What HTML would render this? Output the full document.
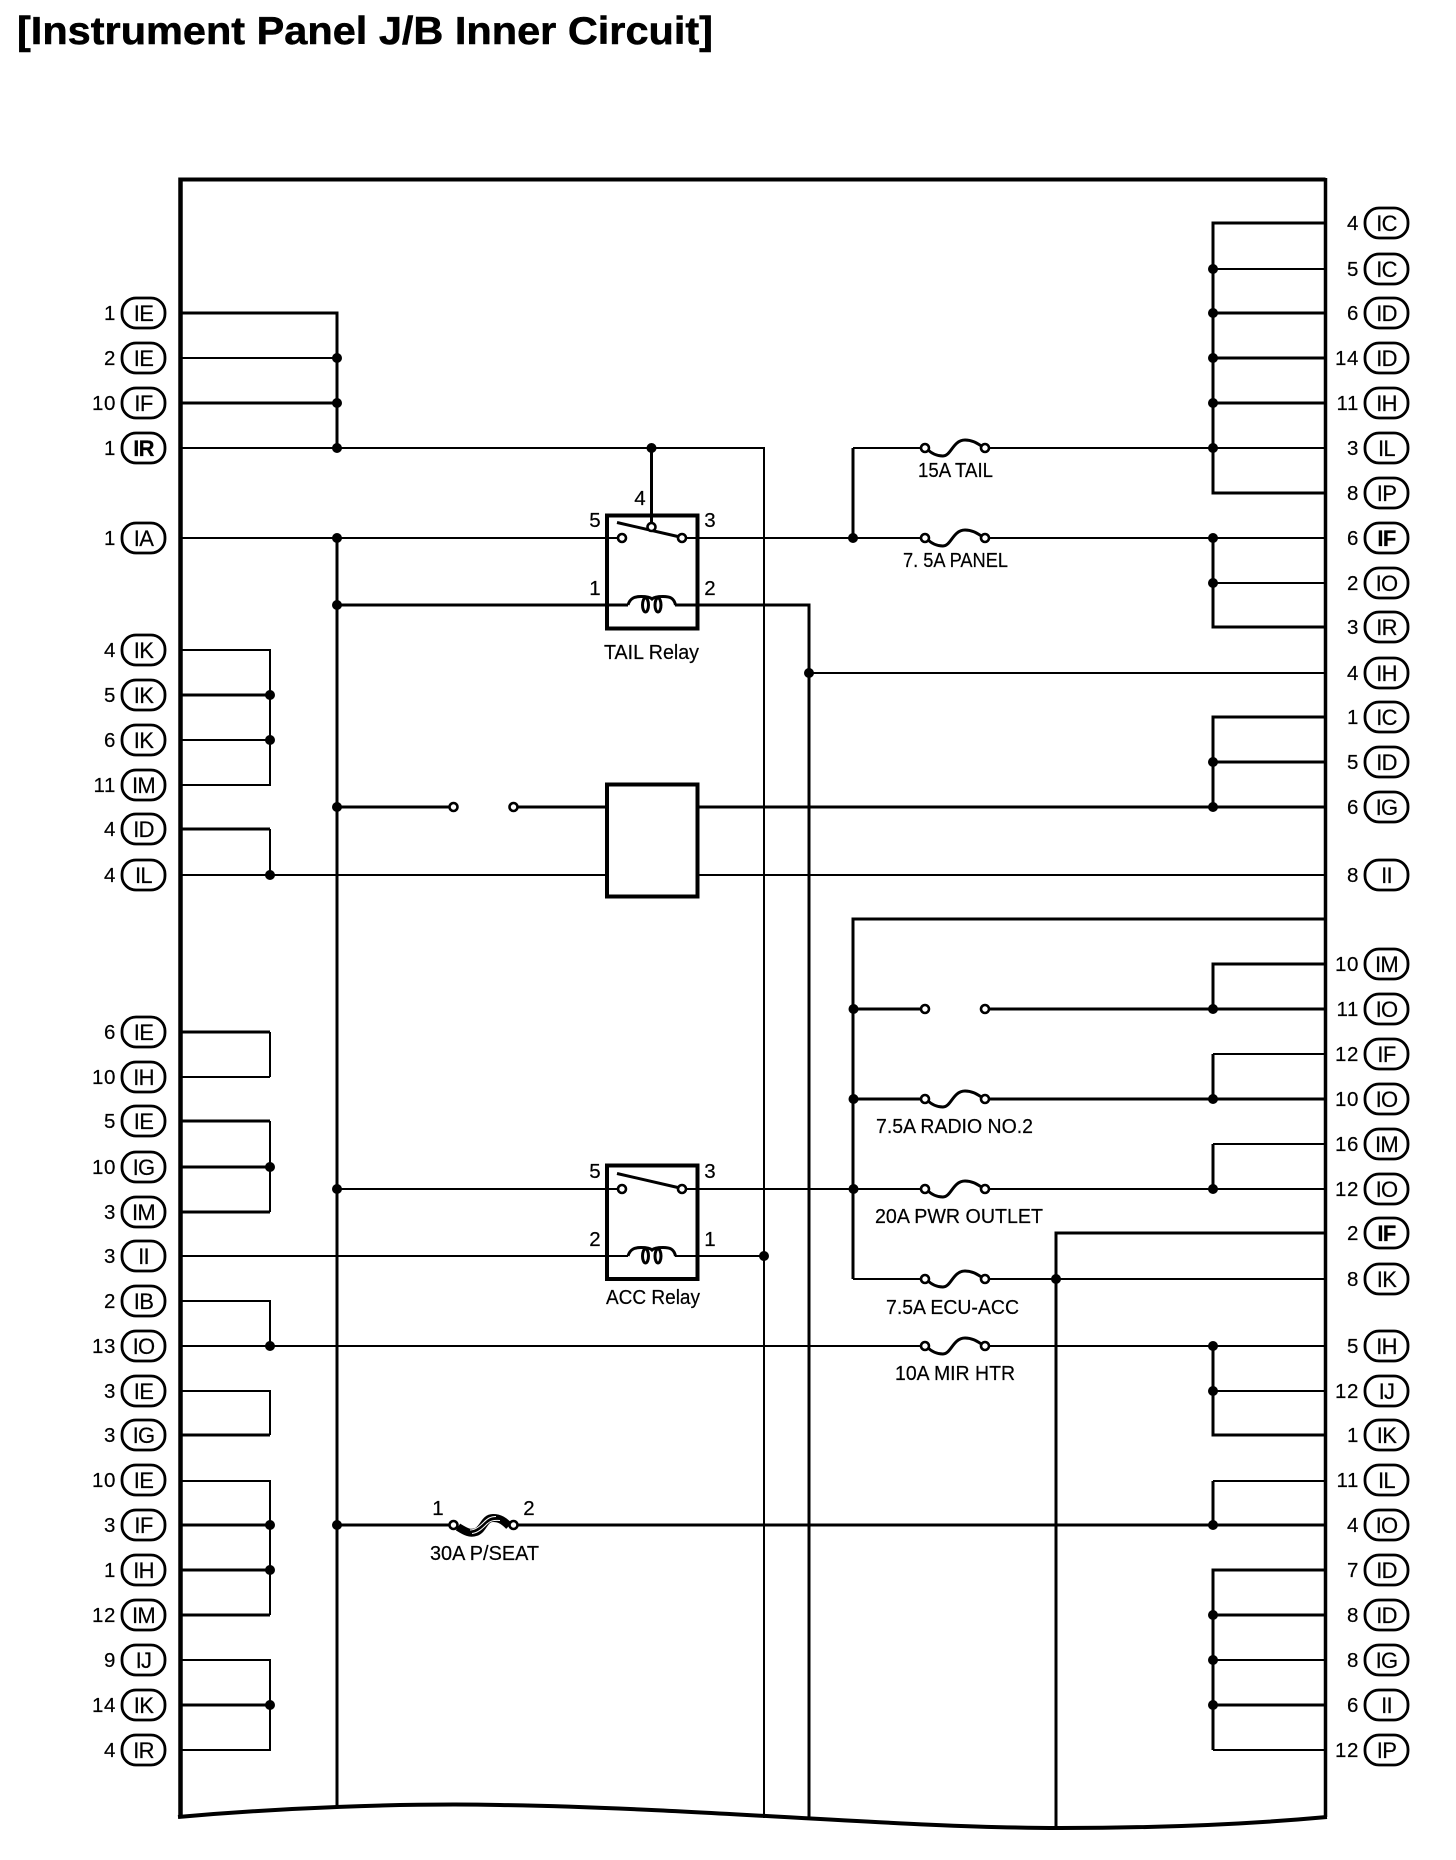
<!DOCTYPE html>
<html lang="en">
<head>
<meta charset="utf-8">
<title>Instrument Panel J/B Inner Circuit</title>
<style>
html,body{margin:0;padding:0;background:#fff}
svg{display:block}
text{font-family:"Liberation Sans",Arial,sans-serif;fill:#000}
.num{font-size:20.5px;text-anchor:end;letter-spacing:.6px;stroke:#000;stroke-width:.2}
.pin{font-size:20.5px;text-anchor:middle;stroke:#000;stroke-width:.2}
.p{font-size:22px;text-anchor:middle;letter-spacing:-.7px;stroke:#000;stroke-width:.2}
.lbl{font-size:20px;stroke:#000;stroke-width:.2}
.pill{fill:#fff;stroke:#000;stroke-width:2.8}
.w2{fill:none;stroke:#000;stroke-width:2;shape-rendering:crispEdges}
.w3{fill:none;stroke:#000;stroke-width:3;shape-rendering:crispEdges}
.box{fill:none;stroke:#000;stroke-width:4;shape-rendering:crispEdges}
.c{fill:#fff;stroke:#000;stroke-width:2.6}
.fu{fill:none;stroke:#000;stroke-width:3}
</style>
</head>
<body>
<svg xmlns="http://www.w3.org/2000/svg" width="1456" height="1860" viewBox="0 0 1456 1860">
<rect width="1456" height="1860" fill="#fff"/>
<text x="17" y="44" font-size="39" font-weight="bold" textLength="696" lengthAdjust="spacingAndGlyphs" stroke="#000" stroke-width=".5">[Instrument Panel J/B Inner Circuit]</text>

<!-- thin wires -->
<path class="w2" d="M181 358H337M181 448H764V1818M181 538H622M682 538H925M985 538H1325
M181 650H270V785H181M181 740H270M181 875H606M698 875H1325
M270 829V875M270 1032V1077M270 1121V1212
M181 1077H270M181 1256H628M675 1256H764M181 1301H270V1346M181 1346H925M985 1346H1325
M181 1391H270V1435M181 1481H270V1615M181 1660H270V1750H181
M337 1189H622M682 1189H925M985 1189H1325M853 1279H925M985 1279H1325
M809 673H1325M1213 269H1325M1213 448H1325M985 448H1325M853 448H925
M1213 583H1325M1213 1054H1325M1213 1144H1325M1213 1391H1325M1213 1481H1325
M1213 1660H1325M1213 1750H1325"/>

<!-- thick wires -->
<path class="w3" d="M181 313H337V448M181 403H337M337 538V1807M337 605H628M675 605H809V1820
M181 695H270M181 829H270M181 1032H270M181 1121H270M181 1212H270M181 1167H270
M181 1435H270M181 1525H270M181 1570H270M181 1615H270M181 1705H270
M337 807H453M513 807H606M698 807H1325
M337 1525H453M513 1525H1325
M1325 223H1213V493H1325M1213 313H1325M1213 358H1325M1213 403H1325
M1213 538V627H1325M1325 717H1213V807M1213 762H1325
M853 448V538M1325 919H853V1279M853 1009H925M985 1009H1325M853 1099H925M985 1099H1325
M1325 964H1213V1009M1213 1054V1099M1213 1144V1189
M1325 1233H1056V1828
M1213 1346V1435H1325M1213 1481V1525
M651.5 448V524"/>
<path d="M1325 1570H1213V1750M1213 1615H1325M1213 1705H1325" fill="none" stroke="#000" stroke-width="2.8" shape-rendering="crispEdges"/>

<!-- frame -->
<path d="M1325.5 179.5H180.5" fill="none" stroke="#000" stroke-width="4"/>
<path d="M180.5 177.5V1817" fill="none" stroke="#000" stroke-width="4.5"/>
<path d="M1325.5 178V1817" fill="none" stroke="#000" stroke-width="3.5"/>
<path d="M178 1817C280 1808 400 1803 500 1805C700 1808 900 1828 1060 1828C1150 1828 1240 1825 1327 1817" fill="none" stroke="#000" stroke-width="4"/>

<!-- relays and boxes -->
<rect class="box" x="607" y="515.5" width="90.5" height="113"/>
<rect class="box" x="607" y="784.5" width="90.5" height="112"/>
<rect class="box" x="607" y="1165.5" width="90.5" height="113.5"/>

<!-- TAIL relay internals -->
<g>
<path class="fu" d="M628 605C630 598 635 596.5 641 596.5C646 596.5 650 597 652 599C654 597 658 596.5 663 596.5C670 596.5 674 598 675.5 605"/>
<ellipse class="fu" cx="645.5" cy="605" rx="3" ry="7"/>
<ellipse class="fu" cx="658" cy="605" rx="3" ry="7"/>
<path d="M617 522.5L680 537" stroke="#000" stroke-width="3" fill="none"/>
<circle class="c" cx="622" cy="538" r="4"/>
<circle class="c" cx="682" cy="538" r="4"/>
<circle class="c" cx="651.5" cy="527" r="4"/>
</g>
<!-- ACC relay internals -->
<g>
<path class="fu" d="M628 1256C630 1249 635 1247.5 641 1247.5C646 1247.5 650 1248 652 1250C654 1248 658 1247.5 663 1247.5C670 1247.5 674 1249 675.5 1256"/>
<ellipse class="fu" cx="645.5" cy="1256" rx="3" ry="7"/>
<ellipse class="fu" cx="658" cy="1256" rx="3" ry="7"/>
<path d="M617 1173.5L680 1188" stroke="#000" stroke-width="3" fill="none"/>
<circle class="c" cx="622" cy="1189" r="4"/>
<circle class="c" cx="682" cy="1189" r="4"/>
</g>

<!-- fuses -->
<g>
<path class="fu" transform="translate(925,448)" d="M2 1C7 6 12 8 18 8C26 8 28 -8 40 -8C48 -8 53 -4 58 -1"/>
<circle class="c" cx="925" cy="448" r="4"/><circle class="c" cx="985" cy="448" r="4"/>
<path class="fu" transform="translate(925,538)" d="M2 1C7 6 12 8 18 8C26 8 28 -8 40 -8C48 -8 53 -4 58 -1"/>
<circle class="c" cx="925" cy="538" r="4"/><circle class="c" cx="985" cy="538" r="4"/>
<path class="fu" transform="translate(925,1099)" d="M2 1C7 6 12 8 18 8C26 8 28 -8 40 -8C48 -8 53 -4 58 -1"/>
<circle class="c" cx="925" cy="1099" r="4"/><circle class="c" cx="985" cy="1099" r="4"/>
<path class="fu" transform="translate(925,1189)" d="M2 1C7 6 12 8 18 8C26 8 28 -8 40 -8C48 -8 53 -4 58 -1"/>
<circle class="c" cx="925" cy="1189" r="4"/><circle class="c" cx="985" cy="1189" r="4"/>
<path class="fu" transform="translate(925,1279)" d="M2 1C7 6 12 8 18 8C26 8 28 -8 40 -8C48 -8 53 -4 58 -1"/>
<circle class="c" cx="925" cy="1279" r="4"/><circle class="c" cx="985" cy="1279" r="4"/>
<path class="fu" transform="translate(925,1346)" d="M2 1C7 6 12 8 18 8C26 8 28 -8 40 -8C48 -8 53 -4 58 -1"/>
<circle class="c" cx="925" cy="1346" r="4"/><circle class="c" cx="985" cy="1346" r="4"/>
<!-- open contacts -->
<circle class="c" cx="453.5" cy="807" r="4"/><circle class="c" cx="513.5" cy="807" r="4"/>
<circle class="c" cx="925" cy="1009" r="4"/><circle class="c" cx="985" cy="1009" r="4"/>
<!-- 30A fuse -->
<path d="M458 1527C466 1532 470 1534 476 1532C484 1529 484 1518 493 1518C500 1518 504 1521 509 1526" fill="none" stroke="#000" stroke-width="8"/>
<path d="M470 1530C476 1530 481 1525 484 1522C487 1519 490 1516.5 496 1516.5" fill="none" stroke="#fff" stroke-width="1"/>
<path d="M472 1533.5C478 1533 483 1528 487 1524C490 1521 493 1520 500 1520.5" fill="none" stroke="#fff" stroke-width="1"/>
<circle class="c" cx="453.5" cy="1525" r="4"/><circle class="c" cx="513.5" cy="1525" r="4"/>
</g>

<!-- junction dots -->
<g fill="#000">
<circle cx="337" cy="358" r="5"/><circle cx="337" cy="403" r="5"/><circle cx="337" cy="448" r="5"/>
<circle cx="651.5" cy="448" r="5"/><circle cx="337" cy="538" r="5"/><circle cx="337" cy="605" r="5"/>
<circle cx="853" cy="538" r="5"/><circle cx="809" cy="673" r="5"/>
<circle cx="270" cy="695" r="5"/><circle cx="270" cy="740" r="5"/><circle cx="270" cy="875" r="5"/>
<circle cx="337" cy="807" r="5"/><circle cx="270" cy="1167" r="5"/><circle cx="337" cy="1189" r="5"/>
<circle cx="764" cy="1256" r="5"/><circle cx="270" cy="1346" r="5"/><circle cx="270" cy="1525" r="5"/>
<circle cx="337" cy="1525" r="5"/><circle cx="270" cy="1570" r="5"/><circle cx="270" cy="1705" r="5"/>
<circle cx="1213" cy="269" r="5"/><circle cx="1213" cy="313" r="5"/><circle cx="1213" cy="358" r="5"/>
<circle cx="1213" cy="403" r="5"/><circle cx="1213" cy="448" r="5"/><circle cx="1213" cy="538" r="5"/>
<circle cx="1213" cy="583" r="5"/><circle cx="1213" cy="762" r="5"/><circle cx="1213" cy="807" r="5"/>
<circle cx="853.5" cy="1009" r="5"/><circle cx="853.5" cy="1099" r="5"/><circle cx="853.5" cy="1189" r="5"/>
<circle cx="1213" cy="1009" r="5"/><circle cx="1213" cy="1099" r="5"/><circle cx="1213" cy="1189" r="5"/>
<circle cx="1056" cy="1279" r="5"/><circle cx="1213" cy="1346" r="5"/><circle cx="1213" cy="1391" r="5"/>
<circle cx="1213" cy="1525" r="5"/><circle cx="1213" cy="1615" r="5"/><circle cx="1213" cy="1660" r="5"/>
<circle cx="1213" cy="1705" r="5"/>
</g>

<!-- component labels -->
<text class="lbl" x="918" y="477" textLength="75" lengthAdjust="spacingAndGlyphs">15A TAIL</text>
<text class="lbl" x="903" y="567" textLength="105" lengthAdjust="spacingAndGlyphs">7. 5A PANEL</text>
<text class="lbl" x="604" y="659" textLength="95" lengthAdjust="spacingAndGlyphs">TAIL Relay</text>
<text class="lbl" x="606" y="1304" textLength="94" lengthAdjust="spacingAndGlyphs">ACC Relay</text>
<text class="lbl" x="876" y="1133" textLength="157" lengthAdjust="spacingAndGlyphs">7.5A RADIO NO.2</text>
<text class="lbl" x="875" y="1223" textLength="168" lengthAdjust="spacingAndGlyphs">20A PWR OUTLET</text>
<text class="lbl" x="886" y="1314" textLength="133" lengthAdjust="spacingAndGlyphs">7.5A ECU-ACC</text>
<text class="lbl" x="895" y="1380" textLength="120" lengthAdjust="spacingAndGlyphs">10A MIR HTR</text>
<text class="lbl" x="430" y="1560" textLength="109" lengthAdjust="spacingAndGlyphs">30A P/SEAT</text>
<text class="pin" x="640" y="505">4</text><text class="pin" x="595" y="527">5</text><text class="pin" x="710" y="527">3</text>
<text class="pin" x="595" y="595">1</text><text class="pin" x="710" y="595">2</text>
<text class="pin" x="595" y="1178">5</text><text class="pin" x="710" y="1178">3</text>
<text class="pin" x="595" y="1246">2</text><text class="pin" x="710" y="1246">1</text>
<text class="pin" x="438" y="1515">1</text><text class="pin" x="529" y="1515">2</text>

<!-- left connectors -->
<g>
<rect class="pill" x="122" y="298" width="43" height="30" rx="14"/><text class="p" x="143.5" y="321">IE</text><text class="num" x="116" y="320">1</text>
<rect class="pill" x="122" y="343" width="43" height="30" rx="14"/><text class="p" x="143.5" y="366">IE</text><text class="num" x="116" y="365">2</text>
<rect class="pill" x="122" y="388" width="43" height="30" rx="14"/><text class="p" x="143.5" y="411">IF</text><text class="num" x="116" y="410">10</text>
<rect class="pill" x="122" y="433" width="43" height="30" rx="14"/><text class="p" x="143.5" y="456" font-weight="bold">IR</text><text class="num" x="116" y="455">1</text>
<rect class="pill" x="122" y="523" width="43" height="30" rx="14"/><text class="p" x="143.5" y="546">IA</text><text class="num" x="116" y="545">1</text>
<rect class="pill" x="122" y="635" width="43" height="30" rx="14"/><text class="p" x="143.5" y="658">IK</text><text class="num" x="116" y="657">4</text>
<rect class="pill" x="122" y="680" width="43" height="30" rx="14"/><text class="p" x="143.5" y="703">IK</text><text class="num" x="116" y="702">5</text>
<rect class="pill" x="122" y="725" width="43" height="30" rx="14"/><text class="p" x="143.5" y="748">IK</text><text class="num" x="116" y="747">6</text>
<rect class="pill" x="122" y="770" width="43" height="30" rx="14"/><text class="p" x="143.5" y="793">IM</text><text class="num" x="116" y="792">11</text>
<rect class="pill" x="122" y="814" width="43" height="30" rx="14"/><text class="p" x="143.5" y="837">ID</text><text class="num" x="116" y="836">4</text>
<rect class="pill" x="122" y="860" width="43" height="30" rx="14"/><text class="p" x="143.5" y="883">IL</text><text class="num" x="116" y="882">4</text>
<rect class="pill" x="122" y="1017" width="43" height="30" rx="14"/><text class="p" x="143.5" y="1040">IE</text><text class="num" x="116" y="1039">6</text>
<rect class="pill" x="122" y="1062" width="43" height="30" rx="14"/><text class="p" x="143.5" y="1085">IH</text><text class="num" x="116" y="1084">10</text>
<rect class="pill" x="122" y="1106" width="43" height="30" rx="14"/><text class="p" x="143.5" y="1129">IE</text><text class="num" x="116" y="1128">5</text>
<rect class="pill" x="122" y="1152" width="43" height="30" rx="14"/><text class="p" x="143.5" y="1175">IG</text><text class="num" x="116" y="1174">10</text>
<rect class="pill" x="122" y="1197" width="43" height="30" rx="14"/><text class="p" x="143.5" y="1220">IM</text><text class="num" x="116" y="1219">3</text>
<rect class="pill" x="122" y="1241" width="43" height="30" rx="14"/><text class="p" x="143.5" y="1264">II</text><text class="num" x="116" y="1263">3</text>
<rect class="pill" x="122" y="1286" width="43" height="30" rx="14"/><text class="p" x="143.5" y="1309">IB</text><text class="num" x="116" y="1308">2</text>
<rect class="pill" x="122" y="1331" width="43" height="30" rx="14"/><text class="p" x="143.5" y="1354">IO</text><text class="num" x="116" y="1353">13</text>
<rect class="pill" x="122" y="1376" width="43" height="30" rx="14"/><text class="p" x="143.5" y="1399">IE</text><text class="num" x="116" y="1398">3</text>
<rect class="pill" x="122" y="1420" width="43" height="30" rx="14"/><text class="p" x="143.5" y="1443">IG</text><text class="num" x="116" y="1442">3</text>
<rect class="pill" x="122" y="1465" width="43" height="30" rx="14"/><text class="p" x="143.5" y="1488">IE</text><text class="num" x="116" y="1487">10</text>
<rect class="pill" x="122" y="1510" width="43" height="30" rx="14"/><text class="p" x="143.5" y="1533">IF</text><text class="num" x="116" y="1532">3</text>
<rect class="pill" x="122" y="1555" width="43" height="30" rx="14"/><text class="p" x="143.5" y="1578">IH</text><text class="num" x="116" y="1577">1</text>
<rect class="pill" x="122" y="1600" width="43" height="30" rx="14"/><text class="p" x="143.5" y="1623">IM</text><text class="num" x="116" y="1622">12</text>
<rect class="pill" x="122" y="1645" width="43" height="30" rx="14"/><text class="p" x="143.5" y="1668">IJ</text><text class="num" x="116" y="1667">9</text>
<rect class="pill" x="122" y="1690" width="43" height="30" rx="14"/><text class="p" x="143.5" y="1713">IK</text><text class="num" x="116" y="1712">14</text>
<rect class="pill" x="122" y="1735" width="43" height="30" rx="14"/><text class="p" x="143.5" y="1758">IR</text><text class="num" x="116" y="1757">4</text>
</g>

<!-- right connectors -->
<g>
<rect class="pill" x="1365" y="208" width="43" height="30" rx="14"/><text class="p" x="1386.5" y="231">IC</text><text class="num" x="1359" y="230">4</text>
<rect class="pill" x="1365" y="254" width="43" height="30" rx="14"/><text class="p" x="1386.5" y="277">IC</text><text class="num" x="1359" y="276">5</text>
<rect class="pill" x="1365" y="298" width="43" height="30" rx="14"/><text class="p" x="1386.5" y="321">ID</text><text class="num" x="1359" y="320">6</text>
<rect class="pill" x="1365" y="343" width="43" height="30" rx="14"/><text class="p" x="1386.5" y="366">ID</text><text class="num" x="1359" y="365">14</text>
<rect class="pill" x="1365" y="388" width="43" height="30" rx="14"/><text class="p" x="1386.5" y="411">IH</text><text class="num" x="1359" y="410">11</text>
<rect class="pill" x="1365" y="433" width="43" height="30" rx="14"/><text class="p" x="1386.5" y="456">IL</text><text class="num" x="1359" y="455">3</text>
<rect class="pill" x="1365" y="478" width="43" height="30" rx="14"/><text class="p" x="1386.5" y="501">IP</text><text class="num" x="1359" y="500">8</text>
<rect class="pill" x="1365" y="523" width="43" height="30" rx="14"/><text class="p" x="1386.5" y="546" font-weight="bold">IF</text><text class="num" x="1359" y="545">6</text>
<rect class="pill" x="1365" y="568" width="43" height="30" rx="14"/><text class="p" x="1386.5" y="591">IO</text><text class="num" x="1359" y="590">2</text>
<rect class="pill" x="1365" y="612" width="43" height="30" rx="14"/><text class="p" x="1386.5" y="635">IR</text><text class="num" x="1359" y="634">3</text>
<rect class="pill" x="1365" y="658" width="43" height="30" rx="14"/><text class="p" x="1386.5" y="681">IH</text><text class="num" x="1359" y="680">4</text>
<rect class="pill" x="1365" y="702" width="43" height="30" rx="14"/><text class="p" x="1386.5" y="725">IC</text><text class="num" x="1359" y="724">1</text>
<rect class="pill" x="1365" y="747" width="43" height="30" rx="14"/><text class="p" x="1386.5" y="770">ID</text><text class="num" x="1359" y="769">5</text>
<rect class="pill" x="1365" y="792" width="43" height="30" rx="14"/><text class="p" x="1386.5" y="815">IG</text><text class="num" x="1359" y="814">6</text>
<rect class="pill" x="1365" y="860" width="43" height="30" rx="14"/><text class="p" x="1386.5" y="883">II</text><text class="num" x="1359" y="882">8</text>
<rect class="pill" x="1365" y="949" width="43" height="30" rx="14"/><text class="p" x="1386.5" y="972">IM</text><text class="num" x="1359" y="971">10</text>
<rect class="pill" x="1365" y="994" width="43" height="30" rx="14"/><text class="p" x="1386.5" y="1017">IO</text><text class="num" x="1359" y="1016">11</text>
<rect class="pill" x="1365" y="1039" width="43" height="30" rx="14"/><text class="p" x="1386.5" y="1062">IF</text><text class="num" x="1359" y="1061">12</text>
<rect class="pill" x="1365" y="1084" width="43" height="30" rx="14"/><text class="p" x="1386.5" y="1107">IO</text><text class="num" x="1359" y="1106">10</text>
<rect class="pill" x="1365" y="1129" width="43" height="30" rx="14"/><text class="p" x="1386.5" y="1152">IM</text><text class="num" x="1359" y="1151">16</text>
<rect class="pill" x="1365" y="1174" width="43" height="30" rx="14"/><text class="p" x="1386.5" y="1197">IO</text><text class="num" x="1359" y="1196">12</text>
<rect class="pill" x="1365" y="1218" width="43" height="30" rx="14"/><text class="p" x="1386.5" y="1241" font-weight="bold">IF</text><text class="num" x="1359" y="1240">2</text>
<rect class="pill" x="1365" y="1264" width="43" height="30" rx="14"/><text class="p" x="1386.5" y="1287">IK</text><text class="num" x="1359" y="1286">8</text>
<rect class="pill" x="1365" y="1331" width="43" height="30" rx="14"/><text class="p" x="1386.5" y="1354">IH</text><text class="num" x="1359" y="1353">5</text>
<rect class="pill" x="1365" y="1376" width="43" height="30" rx="14"/><text class="p" x="1386.5" y="1399">IJ</text><text class="num" x="1359" y="1398">12</text>
<rect class="pill" x="1365" y="1420" width="43" height="30" rx="14"/><text class="p" x="1386.5" y="1443">IK</text><text class="num" x="1359" y="1442">1</text>
<rect class="pill" x="1365" y="1465" width="43" height="30" rx="14"/><text class="p" x="1386.5" y="1488">IL</text><text class="num" x="1359" y="1487">11</text>
<rect class="pill" x="1365" y="1510" width="43" height="30" rx="14"/><text class="p" x="1386.5" y="1533">IO</text><text class="num" x="1359" y="1532">4</text>
<rect class="pill" x="1365" y="1555" width="43" height="30" rx="14"/><text class="p" x="1386.5" y="1578">ID</text><text class="num" x="1359" y="1577">7</text>
<rect class="pill" x="1365" y="1600" width="43" height="30" rx="14"/><text class="p" x="1386.5" y="1623">ID</text><text class="num" x="1359" y="1622">8</text>
<rect class="pill" x="1365" y="1645" width="43" height="30" rx="14"/><text class="p" x="1386.5" y="1668">IG</text><text class="num" x="1359" y="1667">8</text>
<rect class="pill" x="1365" y="1690" width="43" height="30" rx="14"/><text class="p" x="1386.5" y="1713">II</text><text class="num" x="1359" y="1712">6</text>
<rect class="pill" x="1365" y="1735" width="43" height="30" rx="14"/><text class="p" x="1386.5" y="1758">IP</text><text class="num" x="1359" y="1757">12</text>
</g>
</svg>
</body>
</html>
